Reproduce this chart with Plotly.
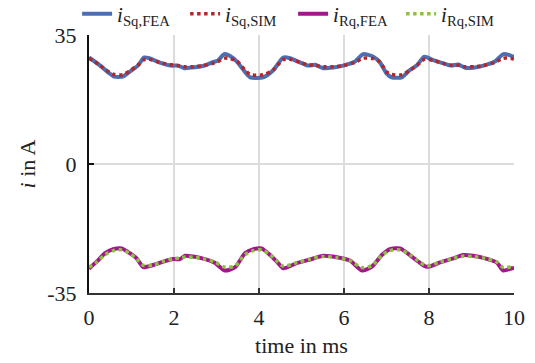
import plotly.graph_objects as go

# ---- data ----
t_sq = [0.0, 0.24, 0.48, 0.59, 0.79, 0.95, 1.15, 1.30, 1.42, 1.65, 1.93, 2.09, 2.24, 2.44, 2.68,
        2.91, 3.03, 3.18, 3.32, 3.48, 3.67, 3.79, 4.10, 4.34, 4.57, 4.73, 4.96, 5.16, 5.32, 5.51,
        5.75, 5.98, 6.26, 6.45, 6.69, 6.85, 7.00, 7.12, 7.36, 7.55, 7.71, 7.89, 8.10, 8.34, 8.53,
        8.69, 8.85, 9.08, 9.28, 9.55, 9.75, 9.95, 10.0]
i_sq_fea = [28.9, 26.9, 24.6, 23.7, 23.7, 25.0, 26.7, 28.9, 28.7, 27.6, 26.7, 26.7, 26.0, 26.2, 26.6,
            27.6, 28.0, 29.8, 29.3, 27.8, 25.0, 23.5, 23.5, 25.5, 28.9, 28.7, 27.6, 26.7, 26.9, 26.0,
            26.2, 26.7, 27.8, 29.8, 29.1, 27.5, 24.6, 23.5, 23.5, 25.5, 26.7, 29.1, 28.2, 27.3, 26.7,
            27.0, 26.1, 26.2, 26.7, 27.8, 29.8, 29.3, 29.0]
i_sq_sim = [28.7, 26.9, 24.9, 24.3, 24.2, 25.2, 26.8, 28.3, 28.4, 27.6, 26.9, 26.7, 26.4, 26.4, 26.7,
            27.3, 27.8, 28.7, 28.6, 27.9, 25.5, 24.3, 24.2, 25.6, 28.3, 28.4, 27.6, 26.9, 26.8, 26.4,
            26.4, 26.7, 27.6, 28.7, 28.6, 27.6, 25.0, 24.3, 24.2, 25.5, 26.7, 28.4, 28.1, 27.3, 26.8,
            26.8, 26.4, 26.4, 26.7, 27.6, 28.7, 28.6, 28.4]

t_rq = [0.0, 0.18, 0.38, 0.57, 0.77, 0.96, 1.12, 1.28, 1.51, 1.75, 1.98, 2.14, 2.26, 2.45, 2.73,
        2.96, 3.20, 3.44, 3.67, 3.87, 4.06, 4.26, 4.42, 4.57, 4.89, 5.20, 5.51, 5.83, 6.14, 6.42,
        6.65, 6.89, 7.08, 7.32, 7.55, 7.75, 7.95, 8.26, 8.57, 8.80, 9.04, 9.32, 9.59, 9.75, 9.95, 10.0]
i_rq_fea = [-28.4, -26.5, -24.2, -23.1, -22.9, -24.2, -25.6, -28.0, -27.4, -26.5, -25.8, -25.8, -24.9, -25.1, -25.8,
            -26.8, -28.9, -28.0, -24.2, -23.1, -22.9, -24.7, -26.5, -28.3, -26.9, -25.9, -24.9, -25.3, -26.2, -28.9,
            -27.9, -24.7, -23.1, -22.9, -24.7, -26.5, -27.9, -26.7, -25.6, -24.7, -24.9, -25.6, -26.7, -28.9, -28.3, -28.2]
i_rq_sim = [-28.0, -26.6, -24.6, -23.5, -23.3, -24.3, -25.7, -27.5, -27.4, -26.4, -25.7, -25.5, -25.2, -25.3, -25.8,
            -26.6, -28.0, -27.6, -24.6, -23.5, -23.3, -24.6, -26.3, -27.7, -26.8, -25.8, -25.1, -25.4, -26.2, -28.1,
            -27.6, -24.8, -23.5, -23.3, -24.6, -26.3, -27.6, -26.6, -25.6, -25.0, -25.1, -25.6, -26.6, -28.1, -27.9, -27.8]

x_ticks = [0, 2, 4, 6, 8, 10]
y_ticks = [-35, 0, 35]
y_ticktext = ["-35", "0", "35"]

FONT = "Liberation Serif"
TXT = "#222222"
FS = 22

fig = go.Figure()
fig.add_trace(go.Scatter(x=t_sq, y=i_sq_fea, mode="lines", name="<i>i</i><sub>Sq,FEA</sub>",
                         line=dict(color="#4a6fb5", width=4, shape="spline", smoothing=0.6)))
fig.add_trace(go.Scatter(x=t_sq, y=i_sq_sim, mode="lines", name="<i>i</i><sub>Sq,SIM</sub>",
                         line=dict(color="#b3272a", width=3.5, dash="dot", shape="spline", smoothing=0.8)))
fig.add_trace(go.Scatter(x=t_rq, y=i_rq_fea, mode="lines", name="<i>i</i><sub>Rq,FEA</sub>",
                         line=dict(color="#a3178c", width=4, shape="spline", smoothing=0.6)))
fig.add_trace(go.Scatter(x=t_rq, y=i_rq_sim, mode="lines", name="<i>i</i><sub>Rq,SIM</sub>",
                         line=dict(color="#8dc040", width=3.5, dash="dot", shape="spline", smoothing=0.8)))

fig.update_layout(
    width=535, height=363,
    margin=dict(l=89, r=21, t=35, b=70, autoexpand=False),
    paper_bgcolor="white", plot_bgcolor="white",
    font=dict(family=FONT, size=FS, color=TXT),
    showlegend=True,
    legend=dict(orientation="h", x=-0.028, y=1.16, xref="paper", yref="paper",
                xanchor="left", yanchor="top",
                font=dict(family=FONT, size=21, color=TXT), itemwidth=30,
                entrywidth=63, entrywidthmode="pixels", bgcolor="rgba(0,0,0,0)",
                traceorder="normal"),
    xaxis=dict(range=[0, 10], tickvals=x_ticks, ticks="inside", ticklen=5, tickwidth=1.5,
               tickcolor="#333", showline=True, linecolor="#333", linewidth=2,
               showgrid=True, gridcolor="#dcdcdc", gridwidth=1.5, zeroline=False,
               ticklabelstandoff=4,
               title=dict(text="time in ms", standoff=8, font=dict(family=FONT, size=FS, color=TXT)),
               tickfont=dict(family=FONT, size=FS, color=TXT)),
    yaxis=dict(range=[-35, 35], tickvals=y_ticks, ticktext=y_ticktext, ticks="inside", ticklen=5,
               tickwidth=1.5, tickcolor="#111", showline=True, linecolor="#111", linewidth=2,
               showgrid=True, gridcolor="#dcdcdc", gridwidth=1.5, zeroline=False,
               ticklabelstandoff=6,
               title=dict(text="<i>i</i> in A", standoff=6, font=dict(family=FONT, size=FS, color=TXT)),
               tickfont=dict(family=FONT, size=FS, color=TXT)),
)

fig.write_html("out.html", config={"displayModeBar": False},
               post_script="document.body.style.margin='0';document.body.style.padding='0';")
